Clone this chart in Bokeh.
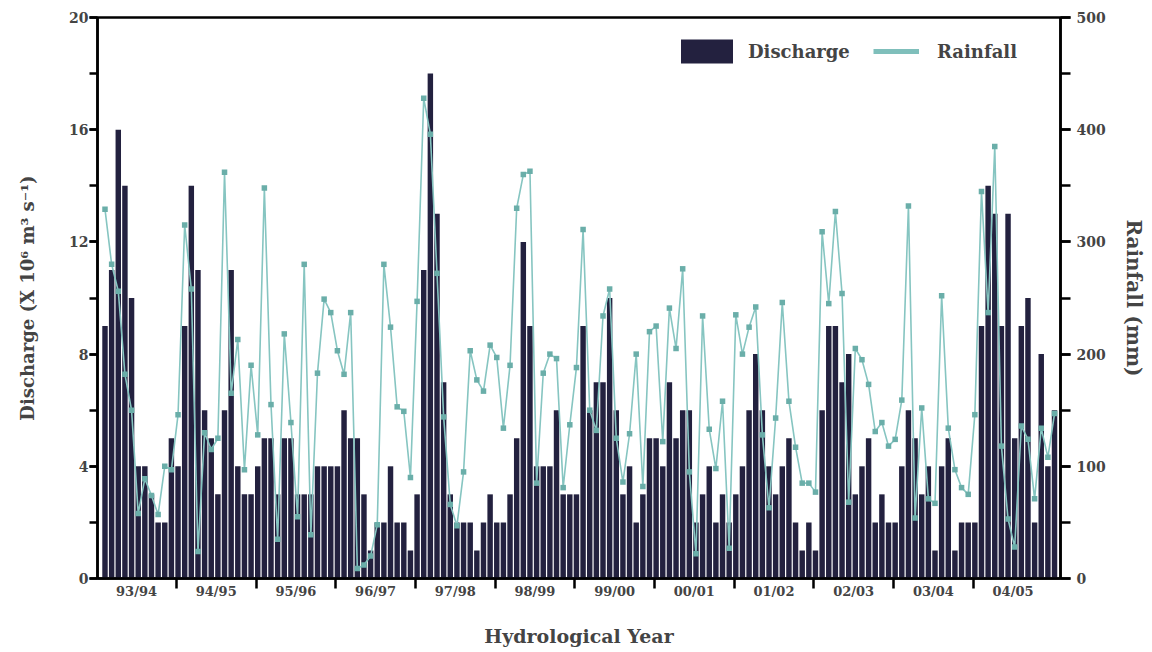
from bokeh.plotting import figure
from bokeh.models import (Range1d, LinearAxis, SingleIntervalTicker, FixedTicker,
                          Legend, LegendItem)
from bokeh.embed import file_html
from bokeh.resources import INLINE

# ---------------- data ----------------
years = ["93/94", "94/95", "95/96", "96/97", "97/98", "98/99",
         "99/00", "00/01", "01/02", "02/03", "03/04", "04/05"]

discharge = [9, 11, 16, 14, 10, 4, 4, 3, 2, 2, 5, 4,
             9, 14, 11, 6, 5, 3, 6, 11, 4, 3, 3, 4,
             5, 5, 3, 5, 5, 3, 3, 3, 4, 4, 4, 4,
             6, 5, 5, 3, 1, 2, 2, 4, 2, 2, 1, 3,
             11, 18, 13, 7, 3, 2, 2, 2, 1, 2, 3, 2,
             2, 3, 5, 12, 9, 4, 4, 4, 6, 3, 3, 3,
             9, 6, 7, 7, 10, 6, 3, 4, 2, 3, 5, 5,
             4, 7, 5, 6, 6, 2, 3, 4, 2, 3, 2, 3,
             4, 6, 8, 6, 4, 3, 4, 5, 2, 1, 2, 1,
             6, 9, 9, 7, 8, 3, 4, 5, 2, 3, 2, 2,
             4, 6, 5, 3, 4, 1, 4, 5, 1, 2, 2, 2,
             9, 14, 13, 9, 13, 5, 9, 10, 2, 8, 4, 6]

rainfall = [329, 280, 256, 182, 150, 58, 89, 74, 57, 100, 97, 146,
            315, 258, 24, 130, 115, 125, 362, 165, 213, 97, 190, 128,
            348, 155, 35, 218, 139, 55, 280, 39, 183, 249, 237, 203,
            182, 237, 9, 12, 20, 48, 280, 224, 153, 149, 90, 247,
            428, 396, 272, 144, 66, 47, 95, 203, 177, 167, 208, 197,
            134, 190, 330, 360, 363, 85, 183, 200, 196, 81, 137, 188,
            311, 150, 132, 234, 258, 125, 86, 129, 200, 82, 220, 225,
            122, 241, 205, 276, 95, 22, 234, 133, 98, 158, 27, 235,
            200, 224, 242, 128, 63, 143, 246, 158, 117, 85, 85, 77,
            309, 245, 327, 254, 68, 205, 195, 173, 131, 139, 118, 124,
            159, 332, 54, 152, 71, 67, 252, 134, 97, 81, 75, 146,
            345, 237, 385, 118, 53, 28, 136, 124, 71, 134, 108, 147]

months = list(range(len(discharge)))
year_centers = [4.75 + 12 * k for k in range(len(years))]
year_bounds = [10.75 + 12 * k for k in range(len(years) - 1)]

FONT = "DejaVu Serif"
BAR = "#23213f"
LINE = "#86c5c1"
MARK = "#6aaea9"

p = figure(width=1152, height=652, output_backend="svg", toolbar_location=None,
           x_range=Range1d(-1.13, 143.9), y_range=Range1d(0, 20),
           x_axis_type=None, y_axis_type=None,
           min_border_left=97, min_border_right=92,
           min_border_top=17, min_border_bottom=74)
p.extra_y_ranges = {"rain": Range1d(0, 500)}
p.background_fill_color = "white"
p.border_fill_color = "white"
p.outline_line_color = "black"
p.outline_line_width = 2.5

bars = p.vbar(x=months, top=discharge, bottom=0, width=0.82,
              fill_color=BAR, line_color=None)
p.line(months, rainfall, y_range_name="rain", line_color=LINE, line_width=1.6)
p.scatter(months, rainfall, y_range_name="rain", marker="square", size=5.5,
          fill_color=MARK, line_color=None)
# legend-only line (lies outside the visible range)
leg_line = p.line(x=[-20, -19], y=[-100, -100], y_range_name="rain",
                  line_color="#7fbfbb", line_width=5)


def style(ax, tick_out, label_size="19px"):
    ax.axis_line_width = 2.5
    ax.axis_line_color = "black"
    ax.major_tick_line_width = 2.5
    ax.minor_tick_line_width = 2.5
    ax.major_tick_in = 0
    ax.minor_tick_in = 0
    ax.major_tick_out = tick_out
    ax.minor_tick_out = tick_out
    ax.major_label_text_font = FONT
    ax.major_label_text_font_style = "bold"
    ax.major_label_text_font_size = "14px"
    ax.axis_label_text_font = FONT
    ax.axis_label_text_font_style = "bold"
    ax.axis_label_text_font_size = label_size


left = LinearAxis(ticker=SingleIntervalTicker(interval=4, num_minor_ticks=2),
                  axis_label="Discharge (X 10\u2076 m\u00b3 s\u207b\u00b9)")
style(left, 8, "18px")
left.major_label_standoff = 1
left.axis_label_standoff = 28
p.add_layout(left, "left")

right = LinearAxis(y_range_name="rain",
                   ticker=SingleIntervalTicker(interval=100, num_minor_ticks=2),
                   axis_label="Rainfall (mm)")
style(right, 10, "20px")
right.major_label_standoff = 6
right.axis_label_standoff = 13
p.add_layout(right, "right")

bottom = LinearAxis(ticker=FixedTicker(ticks=year_centers, minor_ticks=year_bounds),
                    major_label_overrides={c: y for c, y in zip(year_centers, years)},
                    axis_label="Hydrological Year")
style(bottom, 0, "19px")
bottom.major_label_text_font_size = "13px"
bottom.major_tick_line_color = None
bottom.minor_tick_out = 10
bottom.major_label_standoff = -5
bottom.axis_label_standoff = 23
p.add_layout(bottom, "below")

common = dict(padding=0, margin=0, border_line_color=None, background_fill_alpha=0,
              label_text_font=FONT, label_text_font_style="bold",
              label_text_font_size="18px", glyph_height=30)
leg1 = Legend(items=[LegendItem(label="Discharge", renderers=[bars])],
              location=(577, 512), glyph_width=65, label_standoff=9, **common)
leg2 = Legend(items=[LegendItem(label="Rainfall", renderers=[leg_line])],
              location=(776, 512), glyph_width=46, label_standoff=18, **common)
p.add_layout(leg1, "center")
p.add_layout(leg2, "center")

open("out.html", "w").write(file_html(p, INLINE))
